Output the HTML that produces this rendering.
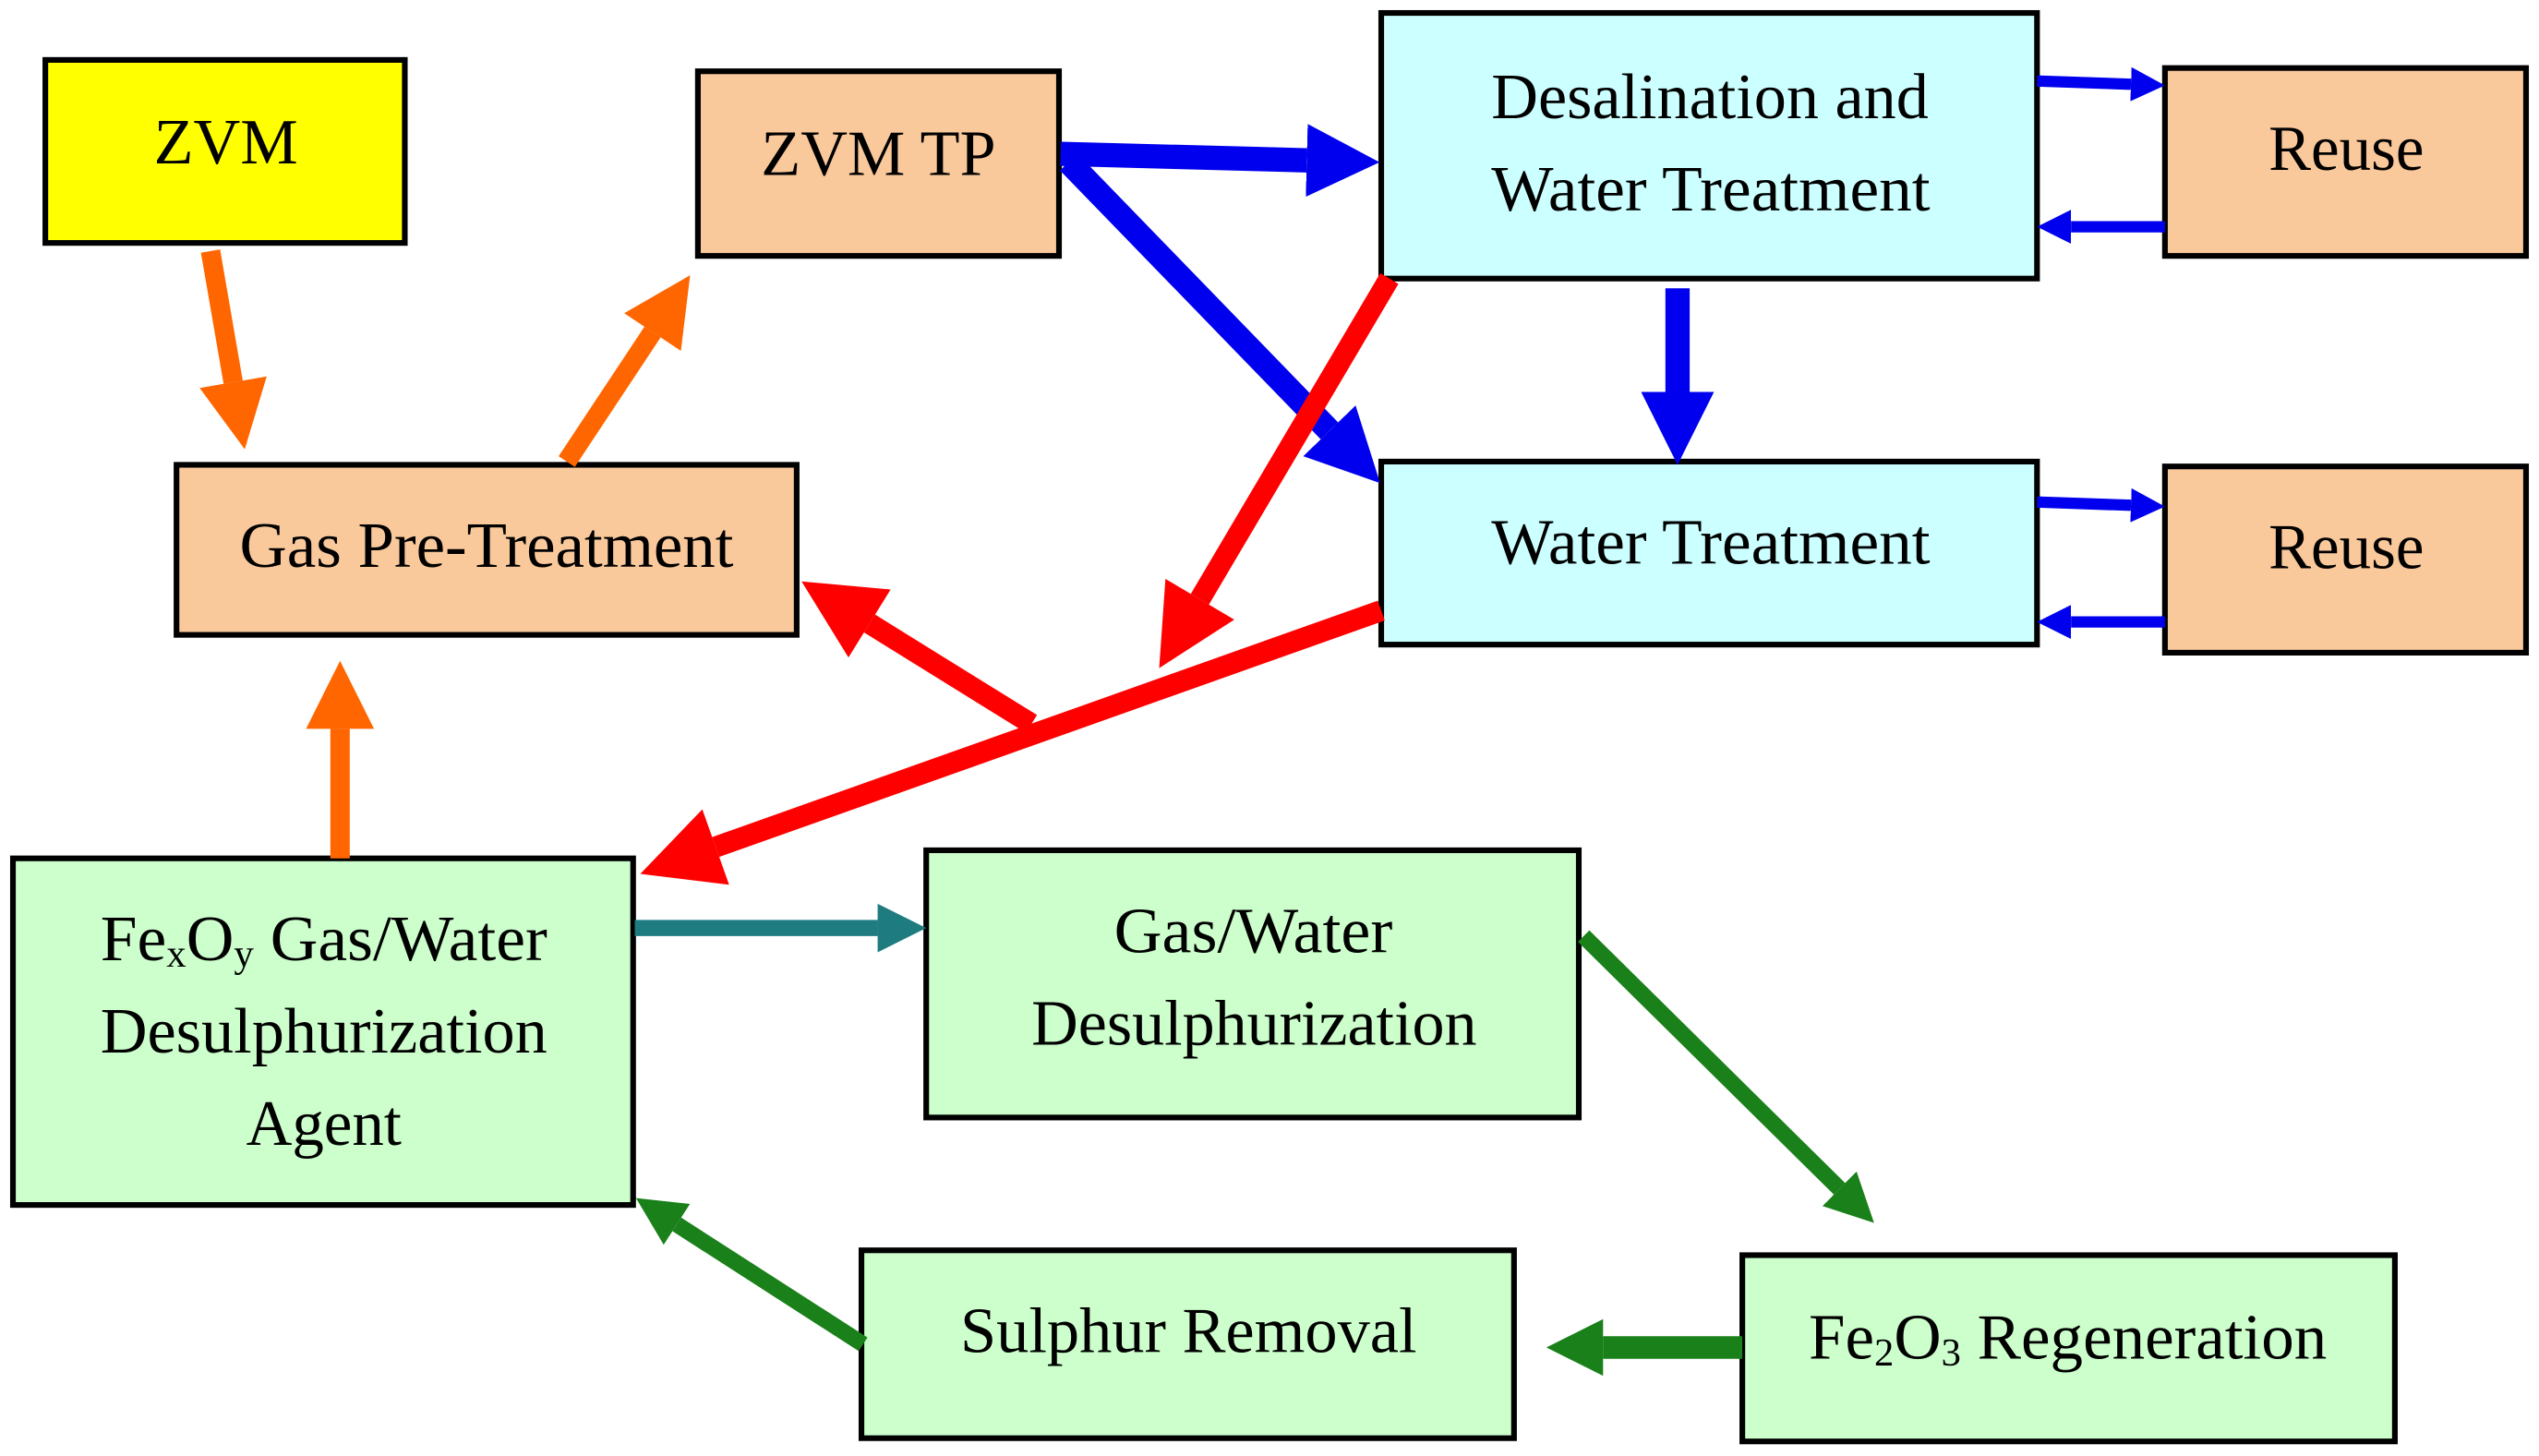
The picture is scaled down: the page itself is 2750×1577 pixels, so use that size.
<!DOCTYPE html>
<html><head><meta charset="utf-8"><style>
html,body{margin:0;padding:0;background:#fff;}
svg{display:block;}
text{font-family:"Liberation Serif",serif;font-size:40px;fill:#000;}
</style></head><body>
<svg width="2750" height="1577" viewBox="0 0 1568 899" preserveAspectRatio="none" xmlns="http://www.w3.org/2000/svg">
<defs>
<marker id="mo" viewBox="0 0 10 10" refX="0" refY="5" markerWidth="4" markerHeight="3.5" orient="auto" markerUnits="strokeWidth"><path d="M0,0L10,5L0,10z" fill="#ff6600"/></marker>
<marker id="mb" viewBox="0 0 10 10" refX="0" refY="5" markerWidth="3" markerHeight="3.3" orient="auto" markerUnits="strokeWidth"><path d="M0,0L10,5L0,10z" fill="#0000ee"/></marker>
<marker id="ms" viewBox="0 0 10 10" refX="0" refY="5" markerWidth="3" markerHeight="3.4" orient="auto" markerUnits="strokeWidth"><path d="M0,0L10,5L0,10z" fill="#0000ee"/></marker>
<marker id="mr" viewBox="0 0 10 10" refX="0" refY="5" markerWidth="4" markerHeight="3.8" orient="auto" markerUnits="strokeWidth"><path d="M0,0L10,5L0,10z" fill="#ff0000"/></marker>
<marker id="mt" viewBox="0 0 10 10" refX="0" refY="5" markerWidth="3" markerHeight="3.2" orient="auto" markerUnits="strokeWidth"><path d="M0,0L10,5L0,10z" fill="#1e7b80"/></marker>
<marker id="mg" viewBox="0 0 10 10" refX="0" refY="5" markerWidth="3" markerHeight="3.2" orient="auto" markerUnits="strokeWidth"><path d="M0,0L10,5L0,10z" fill="#1a801a"/></marker>
<marker id="mg2" viewBox="0 0 10 10" refX="0" refY="5" markerWidth="2.5" markerHeight="3" orient="auto" markerUnits="strokeWidth"><path d="M0,0L10,5L0,10z" fill="#1a801a"/></marker>
</defs>
<g stroke="#000" stroke-width="3.5">
<rect x="28" y="37" width="222" height="113" fill="#ffff00"/>
<rect x="431" y="44" width="223" height="114" fill="#f9c89b"/>
<rect x="853" y="8" width="405" height="164" fill="#ccffff"/>
<rect x="1337" y="42" width="223" height="116" fill="#f9c89b"/>
<rect x="853" y="285" width="405" height="113" fill="#ccffff"/>
<rect x="1337" y="288" width="223" height="115" fill="#f9c89b"/>
<rect x="109" y="287" width="383" height="105" fill="#f9c89b"/>
<rect x="8" y="530" width="383" height="214" fill="#ccffcc"/>
<rect x="572" y="525" width="403" height="165" fill="#ccffcc"/>
<rect x="532" y="772" width="403" height="116" fill="#ccffcc"/>
<rect x="1076" y="775" width="403" height="115" fill="#ccffcc"/>
</g>
<g fill="none">
<line x1="130" y1="155" x2="144" y2="236" stroke="#ff6600" stroke-width="12" marker-end="url(#mo)"/>
<line x1="350" y1="285" x2="403" y2="205" stroke="#ff6600" stroke-width="12" marker-end="url(#mo)"/>
<line x1="210" y1="530" x2="210" y2="450" stroke="#ff6600" stroke-width="12" marker-end="url(#mo)"/>
<line x1="655" y1="95" x2="807" y2="99" stroke="#0000ee" stroke-width="15" marker-end="url(#mb)"/>
<line x1="660" y1="100" x2="821" y2="266" stroke="#0000ee" stroke-width="15" marker-end="url(#mb)"/>
<line x1="1036" y1="178" x2="1036" y2="242" stroke="#0000ee" stroke-width="15" marker-end="url(#mb)"/>
<line x1="1258" y1="50" x2="1316" y2="52" stroke="#0000ee" stroke-width="7" marker-end="url(#ms)"/>
<line x1="1337" y1="140" x2="1279" y2="140" stroke="#0000ee" stroke-width="7" marker-end="url(#ms)"/>
<line x1="1258" y1="310" x2="1316" y2="312" stroke="#0000ee" stroke-width="7" marker-end="url(#ms)"/>
<line x1="1337" y1="384" x2="1279" y2="384" stroke="#0000ee" stroke-width="7" marker-end="url(#ms)"/>
<line x1="858" y1="172" x2="741" y2="370" stroke="#ff0000" stroke-width="13" marker-end="url(#mr)"/>
<line x1="853" y1="377" x2="442" y2="523" stroke="#ff0000" stroke-width="13" marker-end="url(#mr)"/>
<line x1="637" y1="447" x2="537" y2="385" stroke="#ff0000" stroke-width="13" marker-end="url(#mr)"/>
<line x1="392" y1="573" x2="542" y2="573" stroke="#1e7b80" stroke-width="10" marker-end="url(#mt)"/>
<line x1="978" y1="578" x2="1136" y2="734" stroke="#1a801a" stroke-width="10" marker-end="url(#mg)"/>
<line x1="533" y1="830" x2="418" y2="756" stroke="#1a801a" stroke-width="10" marker-end="url(#mg)"/>
<line x1="1076" y1="832" x2="990" y2="832" stroke="#1a801a" stroke-width="14" marker-end="url(#mg2)"/>
</g>
<text x="95" y="101" textLength="89" lengthAdjust="spacingAndGlyphs">ZVM</text>
<text x="470" y="108" textLength="145" lengthAdjust="spacingAndGlyphs">ZVM TP</text>
<text x="921" y="73" textLength="270" lengthAdjust="spacingAndGlyphs">Desalination and</text>
<text x="921" y="130" textLength="271" lengthAdjust="spacingAndGlyphs">Water Treatment</text>
<text x="1401" y="105" textLength="96" lengthAdjust="spacingAndGlyphs">Reuse</text>
<text x="1401" y="351" textLength="96" lengthAdjust="spacingAndGlyphs">Reuse</text>
<text x="921" y="348" textLength="271" lengthAdjust="spacingAndGlyphs">Water Treatment</text>
<text x="148" y="350" textLength="305" lengthAdjust="spacingAndGlyphs">Gas Pre-Treatment</text>
<text x="62" y="593" textLength="276" lengthAdjust="spacingAndGlyphs">Fe<tspan font-size="24" dy="4">x</tspan><tspan dy="-4">O</tspan><tspan font-size="24" dy="4">y</tspan><tspan dy="-4"> Gas/Water</tspan></text>
<text x="62" y="650" textLength="276" lengthAdjust="spacingAndGlyphs">Desulphurization</text>
<text x="152" y="707" textLength="96" lengthAdjust="spacingAndGlyphs">Agent</text>
<text x="688" y="588" textLength="172" lengthAdjust="spacingAndGlyphs">Gas/Water</text>
<text x="637" y="645" textLength="275" lengthAdjust="spacingAndGlyphs">Desulphurization</text>
<text x="593" y="835" textLength="282" lengthAdjust="spacingAndGlyphs">Sulphur Removal</text>
<text x="1117" y="839" textLength="320" lengthAdjust="spacingAndGlyphs">Fe<tspan font-size="24" dy="4">2</tspan><tspan dy="-4">O</tspan><tspan font-size="24" dy="4">3</tspan><tspan dy="-4"> Regeneration</tspan></text>
</svg>
</body></html>
